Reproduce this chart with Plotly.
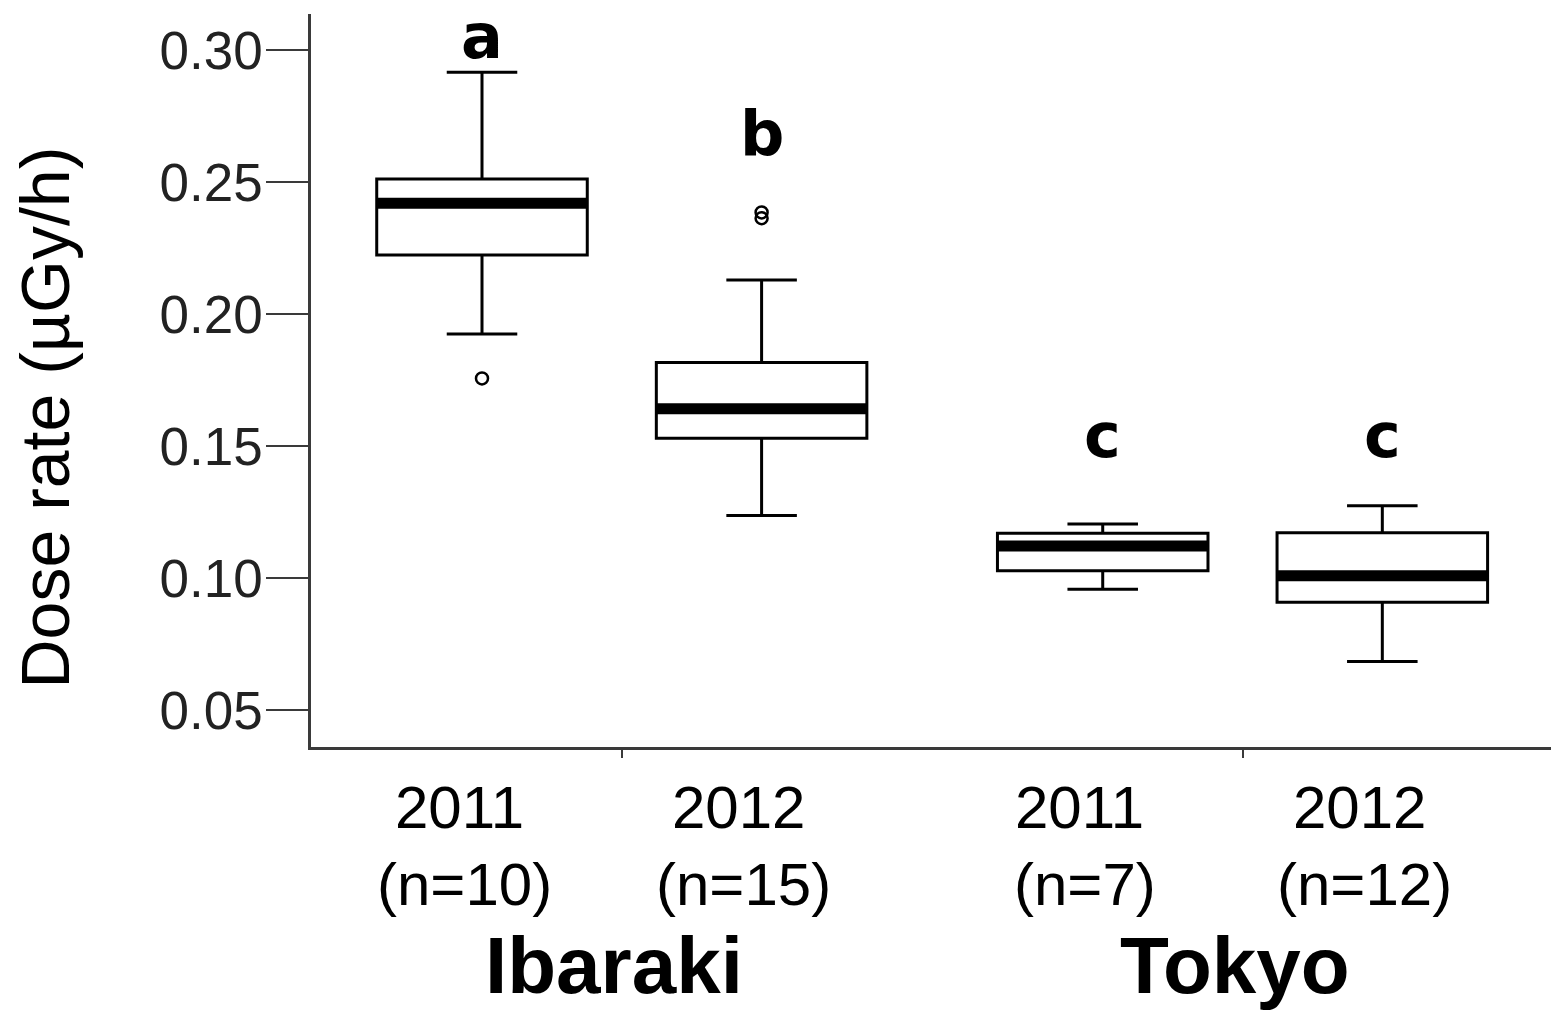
import plotly.graph_objects as go

# ---- data ----
groups = ["Ibaraki", "Tokyo"]
years = ["2011", "2012", "2011", "2012"]
n_sizes = [10, 15, 7, 12]
positions = [1.0, 2.0, 3.22, 4.22]
q1 = [0.2225, 0.1530, 0.1028, 0.0909]
median = [0.2421, 0.1642, 0.1122, 0.1009]
q3 = [0.2513, 0.1817, 0.1170, 0.1172]
lowerfence = [0.1925, 0.1237, 0.0958, 0.0684]
upperfence = [0.2917, 0.2130, 0.1205, 0.1274]
outliers = [[0.1757], [0.2386, 0.2364], [], []]
letters = ["a", "b", "c", "c"]
letter_y = [0.3051, 0.2687, 0.1542, 0.1542]
y_ticks = [0.05, 0.10, 0.15, 0.20, 0.25, 0.30]
y_ticklabels = ["0.05", "0.10", "0.15", "0.20", "0.25", "0.30"]

BOX_W = 0.753
fig = go.Figure()

for i, p in enumerate(positions):
    fig.add_trace(go.Box(
        x=[p], q1=[q1[i]], median=[median[i]], q3=[q3[i]],
        lowerfence=[lowerfence[i]], upperfence=[upperfence[i]],
        width=BOX_W, whiskerwidth=0.335, boxpoints=False,
        fillcolor="white", line=dict(color="black", width=3),
        showlegend=False, hoverinfo="skip"))

# thick median lines
mx, my = [], []
for i, p in enumerate(positions):
    mx += [p - BOX_W / 2, p + BOX_W / 2, None]
    my += [median[i], median[i], None]
fig.add_trace(go.Scatter(x=mx, y=my, mode="lines",
                         line=dict(color="black", width=11),
                         showlegend=False, hoverinfo="skip"))

# outliers
ox, oy = [], []
for i, p in enumerate(positions):
    for v in outliers[i]:
        ox.append(p)
        oy.append(v)
fig.add_trace(go.Scatter(x=ox, y=oy, mode="markers",
                         marker=dict(symbol="circle-open", size=12, color="black",
                                     line=dict(width=2.5, color="#222")),
                         showlegend=False, hoverinfo="skip"))

annotations = []
# significance letters
for i, p in enumerate(positions):
    annotations.append(dict(x=p, y=letter_y[i], xref="x", yref="y", text=letters[i],
                            showarrow=False, xanchor="center", yanchor="middle",
                            font=dict(family="DejaVu Sans", size=62, color="black", weight="bold")))
# year / n labels
for i, p in enumerate(positions):
    annotations.append(dict(x=p, y=0, xref="x", yref="paper", text=years[i],
                            showarrow=False, xanchor="center", yanchor="middle",
                            xshift=-23, yshift=-60,
                            font=dict(family="Liberation Sans", size=60, color="black")))
    annotations.append(dict(x=p, y=0, xref="x", yref="paper", text=f"(n={n_sizes[i]})",
                            showarrow=False, xanchor="center", yanchor="middle",
                            xshift=-18, yshift=-137,
                            font=dict(family="Liberation Sans", size=60, color="black")))
# group labels
group_mid = [(positions[0] + positions[1]) / 2, (positions[2] + positions[3]) / 2]
for g, gx in zip(groups, group_mid):
    annotations.append(dict(x=gx, y=0, xref="x", yref="paper", text=g,
                            showarrow=False, xanchor="center", yanchor="middle",
                            xshift=-8, yshift=-218,
                            font=dict(family="Liberation Sans", size=80, color="black", weight="bold")))
# y-axis title
annotations.append(dict(x=0, y=0.5, xref="paper", yref="paper", text="Dose rate (µGy/h)",
                        showarrow=False, textangle=-90, xanchor="center", yanchor="middle",
                        xshift=-267, yshift=-37,
                        font=dict(family="Liberation Sans", size=68, color="black")))

fig.update_layout(
    width=1551, height=1013,
    margin=dict(l=311, r=0, t=14, b=266),
    paper_bgcolor="white", plot_bgcolor="white",
    showlegend=False,
    annotations=annotations,
    xaxis=dict(range=[0.3884, 4.8233], showgrid=False, zeroline=False,
               showline=True, linecolor="#3a3a3a", linewidth=2.5,
               tickmode="array", tickvals=group_mid, ticktext=["", ""],
               ticks="outside", ticklen=8, tickwidth=2, tickcolor="#3a3a3a"),
    yaxis=dict(range=[0.0360, 0.3138], showgrid=False, zeroline=False,
               showline=True, linecolor="#3a3a3a", linewidth=2.5,
               tickmode="array", tickvals=y_ticks, ticktext=y_ticklabels,
               ticks="outside", ticklen=42, tickwidth=2, tickcolor="#3a3a3a",
               ticklabelstandoff=-7,
               tickfont=dict(family="Liberation Sans", size=53, color="#222")),
)

fig.write_html("out.html", config={"displayModeBar": False},
               post_script="document.body.style.margin='0';document.body.style.overflow='hidden';")
